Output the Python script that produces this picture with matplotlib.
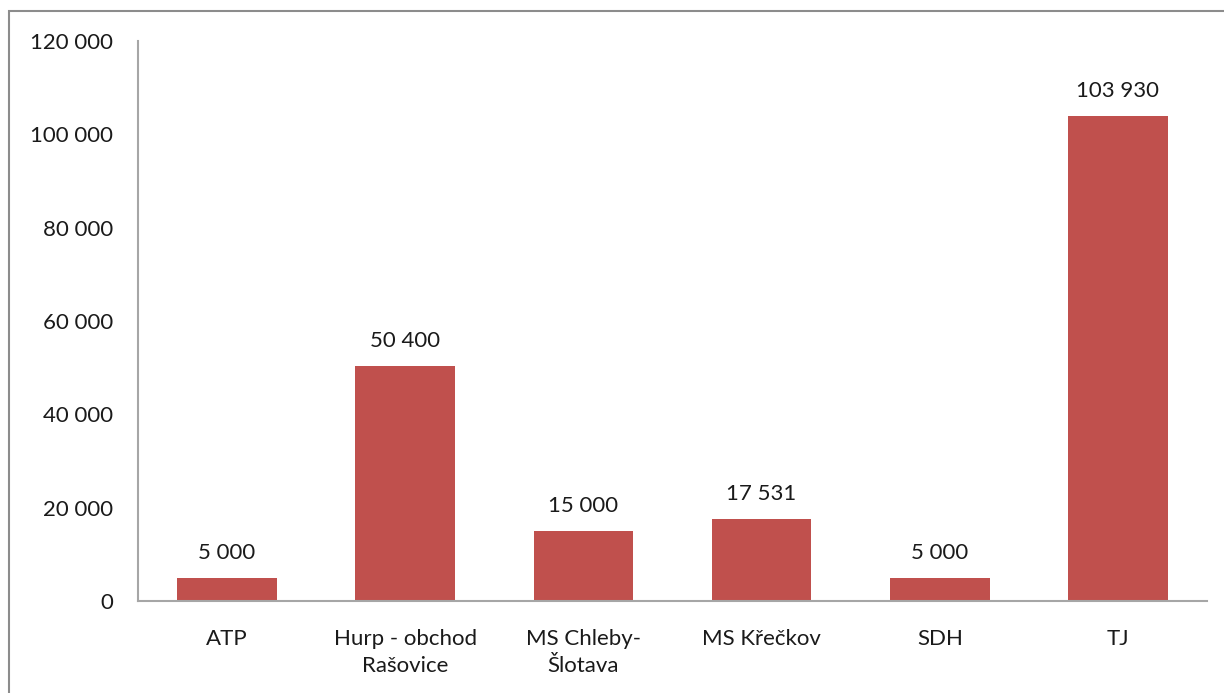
import matplotlib.pyplot as plt
from matplotlib.patches import Rectangle
from matplotlib.ticker import FuncFormatter

categories = ["ATP", "Hurp - obchod\nRašovice", "MS Chleby-\nŠlotava", "MS Křečkov", "SDH", "TJ"]
values = [5000, 50400, 15000, 17531, 5000, 103930]
y_ticks = [0, 20000, 40000, 60000, 80000, 100000, 120000]

plt.rcParams['font.family'] = ['Lato', 'DejaVu Sans']


def fmt(v):
    return f"{int(v):,}".replace(",", " ")


W, H = 1224, 693
fig = plt.figure(figsize=(W / 100, H / 100), dpi=100)
ax = fig.add_axes([138 / W, 1 - 601 / H, (1207 - 138) / W, (601 - 41) / H])

# outer chart border (cut off at right and bottom, as in the original)
fig.patches.append(Rectangle((9 / W, -0.1), 1.2, 1 - 11 / H + 0.1,
                             transform=fig.transFigure, fill=False,
                             edgecolor="#8c8c8c", lw=1.5))

x = range(len(categories))
ax.bar(x, values, width=0.56, color="#C0504D")
for xi, v in zip(x, values):
    ax.text(xi, v + 3200, fmt(v), ha="center", va="bottom", fontsize=16, color="#1a1a1a")

ax.set_xlim(-0.5, len(categories) - 0.5)
ax.set_ylim(0, 120000)
ax.set_yticks(y_ticks)
ax.yaxis.set_major_formatter(FuncFormatter(lambda v, p: fmt(v)))
ax.set_xticks(list(x))
ax.set_xticklabels(categories, fontsize=16, color="#1a1a1a", linespacing=1.45)
ax.tick_params(axis="y", labelsize=16, labelcolor="#1a1a1a", length=0, pad=18)
ax.tick_params(axis="x", length=0, pad=20)

for s in ["top", "right"]:
    ax.spines[s].set_visible(False)
for s in ["left", "bottom"]:
    ax.spines[s].set_color("#a6a6a6")
    ax.spines[s].set_linewidth(1.5)

fig.savefig("out.png", dpi=100)
